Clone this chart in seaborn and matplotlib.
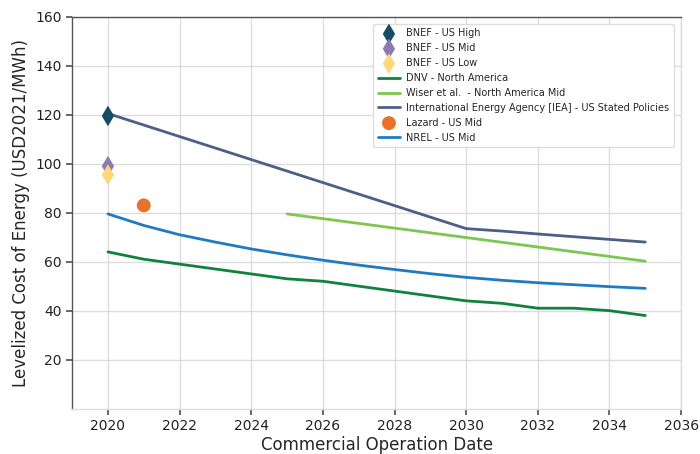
import matplotlib
matplotlib.use("Agg")
import matplotlib.pyplot as plt
import seaborn as sns
import pandas as pd

sns.set_theme(style="whitegrid")
plt.rcParams['font.family'] = ['DejaVu Sans']

# Data
bnef_year = [2020]
bnef_high = [119.5]
bnef_mid = [99]
bnef_low = [95.5]

dnv_years = [2020, 2021, 2022, 2023, 2024, 2025, 2026, 2027, 2028, 2029, 2030, 2031, 2032, 2033, 2034, 2035]
dnv_vals = [64, 61, 59, 57, 55, 53, 52, 50, 48, 46, 44, 43, 41, 41, 40, 38]

wiser_years = [2025, 2035]
wiser_vals = [79.5, 60.2]

iea_years = [2020, 2030, 2031, 2032, 2033, 2034, 2035]
iea_vals = [120.5, 73.5, 72.5, 71.3, 70.2, 69.1, 68]

lazard_year = [2021]
lazard_vals = [83]

nrel_years = [2020, 2021, 2022, 2023, 2024, 2025, 2026, 2027, 2028, 2029, 2030, 2031, 2032, 2033, 2034, 2035]
nrel_vals = [79.5, 74.8, 71, 68, 65.2, 62.8, 60.6, 58.6, 56.8, 55.1, 53.6, 52.4, 51.4, 50.6, 49.8, 49.1]

fig, ax = plt.subplots(figsize=(7, 4.54), dpi=100)
fig.subplots_adjust(left=0.103, right=0.973, top=0.963, bottom=0.1)

sns.scatterplot(x=bnef_year, y=bnef_high, marker="d", s=110, color="#174d63", edgecolor="none", ax=ax, label="BNEF - US High", zorder=5)
sns.scatterplot(x=bnef_year, y=bnef_mid, marker="d", s=110, color="#8f7aae", edgecolor="none", ax=ax, label="BNEF - US Mid", zorder=5)
sns.scatterplot(x=bnef_year, y=bnef_low, marker="d", s=110, color="#fdd77a", edgecolor="none", ax=ax, label="BNEF - US Low", zorder=5)
sns.lineplot(x=dnv_years, y=dnv_vals, color="#11823b", linewidth=2.0, ax=ax, label="DNV - North America")
sns.lineplot(x=wiser_years, y=wiser_vals, color="#7cc651", linewidth=2.0, ax=ax, label="Wiser et al.  - North America Mid")
sns.lineplot(x=iea_years, y=iea_vals, color="#4b5f87", linewidth=2.0, ax=ax, label="International Energy Agency [IEA] - US Stated Policies")
sns.scatterplot(x=lazard_year, y=lazard_vals, marker="o", s=100, color="#e8722a", edgecolor="none", ax=ax, label="Lazard - US Mid", zorder=5)
sns.lineplot(x=nrel_years, y=nrel_vals, color="#1f7bc1", linewidth=2.0, ax=ax, label="NREL - US Mid")

ax.set_xlim(2019, 2036)
ax.set_ylim(0, 160)
ax.set_xticks(list(range(2020, 2037, 2)))
ax.set_yticks(list(range(20, 161, 20)))
ax.tick_params(axis="both", labelsize=10, length=4, color="#555555", labelcolor="#222222", left=True, bottom=True)
ax.grid(True, color="#dddddd", linewidth=1)
ax.set_facecolor("white")
for side in ["left", "top"]:
    ax.spines[side].set_color("#555555")
    ax.spines[side].set_linewidth(1)
for side in ["right", "bottom"]:
    ax.spines[side].set_color("#dddddd")
    ax.spines[side].set_linewidth(1)

ax.set_xlabel("Commercial Operation Date", fontsize=12, labelpad=2)
ax.set_ylabel("Levelized Cost of Energy (USD2021/MWh)", fontsize=12)

leg = ax.legend(loc="upper right", fontsize=7, frameon=True, framealpha=1, edgecolor="#dddddd",
                borderpad=0.5, labelspacing=0.5, handlelength=2.2, handletextpad=0.7,
                markerscale=1.0, bbox_to_anchor=(0.997, 0.995))

fig.savefig("out.png", dpi=100)
